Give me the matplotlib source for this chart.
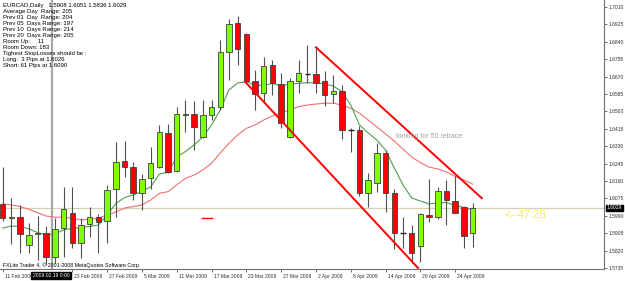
import matplotlib
matplotlib.use("Agg")
import matplotlib.pyplot as plt
import matplotlib.transforms as mtransforms
import pandas as pd

plt.rcParams['font.family'] = ['Liberation Sans', 'DejaVu Sans']

# daily EURCAD bars, 11 Feb 2009 onward
dates = pd.bdate_range("2009-02-11", periods=55)

opens = [1.6046, 1.5978, 1.5983, 1.5846, 1.5900, 1.5905, 1.5787, 1.5929, 1.6002, 1.5856,
         1.5949, 1.5983, 1.5965, 1.6121, 1.6256, 1.6230, 1.6103, 1.6173, 1.6230, 1.6393,
         1.6210, 1.6481, 1.6487, 1.6376, 1.6481, 1.6520, 1.6792, 1.6930, 1.6878, 1.6650,
         1.6590, 1.6727, 1.6634, 1.6374, 1.6650, 1.6685, 1.6681, 1.6650, 1.6586, 1.6601,
         1.6411, 1.6409, 1.6100, 1.6149, 1.6295, 1.6100, 1.5904, 1.5905, 1.5844, 1.5993,
         1.5986, 1.6111, 1.6062, 1.6032, 1.5908]
highs = [1.6230, 1.6076, 1.6043, 1.5953, 1.5989, 1.5940, 1.5978, 1.6132, 1.6129, 1.5978,
         1.6035, 1.5999, 1.6141, 1.6352, 1.6355, 1.6254, 1.6194, 1.6328, 1.6434, 1.6438,
         1.6523, 1.6556, 1.6552, 1.6556, 1.6556, 1.6849, 1.6950, 1.6966, 1.6884, 1.6702,
         1.6767, 1.6751, 1.6688, 1.6662, 1.6751, 1.6824, 1.6813, 1.6699, 1.6678, 1.6629,
         1.6417, 1.6429, 1.6198, 1.6347, 1.6311, 1.6120, 1.5986, 1.5945, 1.6002, 1.6168,
         1.6129, 1.6165, 1.6184, 1.6038, 1.6051]
lows = [1.5965, 1.5852, 1.5807, 1.5807, 1.5774, 1.5750, 1.5758, 1.5790, 1.5831, 1.5782,
        1.5888, 1.5807, 1.5856, 1.5986, 1.6181, 1.6067, 1.6018, 1.6120, 1.6224, 1.6200,
        1.6205, 1.6401, 1.6311, 1.6369, 1.6458, 1.6507, 1.6653, 1.6727, 1.6640, 1.6507,
        1.6540, 1.6580, 1.6417, 1.6369, 1.6591, 1.6637, 1.6588, 1.6528, 1.6540, 1.6364,
        1.6303, 1.6087, 1.6033, 1.6108, 1.6010, 1.5826, 1.5831, 1.5761, 1.5766, 1.5961,
        1.5973, 1.5945, 1.6002, 1.5831, 1.5836]
closes = [1.5978, 1.5986, 1.5900, 1.5896, 1.5904, 1.5787, 1.5924, 1.6022, 1.5856, 1.5947,
          1.5983, 1.5961, 1.6116, 1.6254, 1.6230, 1.6103, 1.6170, 1.6247, 1.6399, 1.6205,
          1.6486, 1.6487, 1.6422, 1.6481, 1.6520, 1.6792, 1.6926, 1.6805, 1.6650, 1.6585,
          1.6722, 1.6637, 1.6442, 1.6650, 1.6686, 1.6685, 1.6640, 1.6580, 1.6601, 1.6409,
          1.6411, 1.6100, 1.6165, 1.6295, 1.6100, 1.5905, 1.5904, 1.5810, 1.5997, 1.5983,
          1.6111, 1.6067, 1.6005, 1.5893, 1.6029]

ma_fast = [1.5930, 1.5940, 1.5938, 1.5926, 1.5908, 1.5896, 1.5901, 1.5921, 1.5928, 1.5933,
           1.5938, 1.5945, 1.5994, 1.6050, 1.6079, 1.6092, 1.6109, 1.6131, 1.6194, 1.6202,
           1.6277, 1.6304, 1.6336, 1.6375, 1.6434, 1.6507, 1.6605, 1.6639, 1.6645, 1.6629,
           1.6626, 1.6637, 1.6624, 1.6634, 1.6637, 1.6640, 1.6640, 1.6634, 1.6624, 1.6596,
           1.6531, 1.6434, 1.6395, 1.6360, 1.6311, 1.6224, 1.6141, 1.6077, 1.6062, 1.6048,
           1.6053, 1.6055, 1.6040, 1.6031, 1.6018]
ma_slow = [1.6048, 1.6043, 1.6035, 1.6022, 1.6005, 1.5989, 1.5983, 1.5983, 1.5978, 1.5970,
           1.5973, 1.5978, 1.5994, 1.6009, 1.6028, 1.6035, 1.6043, 1.6067, 1.6100, 1.6108,
           1.6141, 1.6173, 1.6189, 1.6214, 1.6247, 1.6297, 1.6344, 1.6385, 1.6417, 1.6434,
           1.6458, 1.6478, 1.6494, 1.6507, 1.6523, 1.6531, 1.6536, 1.6540, 1.6540, 1.6531,
           1.6515, 1.6491, 1.6458, 1.6424, 1.6390, 1.6355, 1.6316, 1.6277, 1.6250, 1.6228,
           1.6219, 1.6204, 1.6182, 1.6165, 1.6145]

# channel lines drawn on the chart (bar index, price)
upper_line_x = [36.0, 55.06]
upper_line_y = [1.6813, 1.6076]
lower_line_x = [27.85, 47.73]
lower_line_y = [1.6645, 1.5735]
short_line_x = [22.9, 24.0]
short_line_y = [1.5978, 1.5978]

bid = 1.6029

y_ticks = [1.5735, 1.5820, 1.5905, 1.5990, 1.6075, 1.6160, 1.6245, 1.6330,
           1.6415, 1.6500, 1.6585, 1.6670, 1.6755, 1.6840, 1.6925, 1.7010]
x_tick_labels = ["11 Feb 2009", "23 Feb 2009", "27 Feb 2009", "5 Mar 2009", "11 Mar 2009",
                 "17 Mar 2009", "23 Mar 2009", "27 Mar 2009", "2 Apr 2009", "8 Apr 2009",
                 "14 Apr 2009", "20 Apr 2009", "24 Apr 2009"]

info_lines = ["EURCAD,Daily   1.5908 1.6051 1.5836 1.6029",
              "Average Day  Range: 205",
              "Prev 01  Day  Range: 204",
              "Prev 05  Days Range: 197",
              "Prev 10  Days Range: 214",
              "Prev 20  Days Range: 205",
              "Room Up:     11",
              "Room Down: 183",
              "Tighest StopLosses should be :",
              "Long:  3 Pips at 1.6026",
              "Short: 61 Pips at 1.6090"]

W, H = 625, 281
fig = plt.figure(figsize=(W / 100, H / 100), dpi=100)
ax = fig.add_axes([0, 12 / H, 604 / W, 269 / H])
ax.set_xlim(-0.31, 69.1)
ax.set_ylim(1.57301, 1.70442)

GREEN = '#80ff00'
RED = '#ff0000'
EDGE = '#404040'

# moving averages and bid line behind the candles
idx = list(range(len(dates)))
ax.axhline(bid, color='#d8ceb9', lw=0.9, zorder=1)
ax.plot(idx, ma_slow, color='#f07070', lw=0.8, zorder=2)
ax.plot(idx, ma_fast, color='#4e9e4e', lw=0.8, zorder=2)

# cursor line
ax.axvline(5.65, color='#a8a8a8', lw=1.6, zorder=1.5)

body_w = 0.63
for i, (o, h, l, c) in enumerate(zip(opens, highs, lows, closes)):
    ax.vlines(i, l, h, color='#505050', lw=0.8, zorder=3)
    if abs(c - o) < 0.00015:
        col = '#202020' if c == o else ('#3a5a10' if c > o else '#602020')
        ax.hlines((o + c) / 2, i - body_w / 2, i + body_w / 2, color=col, lw=1.0, zorder=4)
    else:
        ax.bar(i, abs(c - o), bottom=min(o, c), width=body_w,
               color=GREEN if c > o else RED, edgecolor=EDGE, lw=0.6, zorder=4)

ax.plot(upper_line_x, upper_line_y, color=RED, lw=1.4, zorder=5)
ax.plot(lower_line_x, lower_line_y, color=RED, lw=1.4, zorder=5)
ax.plot(short_line_x, short_line_y, color=RED, lw=1.0, zorder=5)

ax.text(45.2, 1.6375, "looking for 50 retrace", fontsize=5, color='#a0a0a0',
        ha='left', va='center', zorder=6)
ax.text(57.7, 1.5994, "<--47:28", fontsize=8, color='#f0f040',
        ha='left', va='center', zorder=6)

# axes styling like the terminal
for side in ['left', 'top']:
    ax.spines[side].set_visible(False)
for side in ['right', 'bottom']:
    ax.spines[side].set_color('#707070')
    ax.spines[side].set_linewidth(0.8)

ax.yaxis.tick_right()
ax.set_yticks(y_ticks)
ax.set_yticklabels([f"{v:.4f}" for v in y_ticks])
ax.tick_params(axis='y', labelsize=3.6, length=2, width=0.5, pad=1.5, colors='#303030')

tick_pos = [dates.get_loc(pd.to_datetime(t)) for t in x_tick_labels]
ax.set_xticks(tick_pos)
ax.set_xticklabels(x_tick_labels)
ax.tick_params(axis='x', labelsize=3.6, length=2.5, width=0.5, pad=1.0, colors='#303030')
shift = mtransforms.ScaledTranslation(2 / 100, 0, fig.dpi_scale_trans)
for lab in ax.get_xticklabels():
    lab.set_horizontalalignment('left')
    lab.set_transform(lab.get_transform() + shift)

# current bid label on the price axis
ax.annotate(f"{bid:.4f}", xy=(1.0, bid), xycoords=ax.get_yaxis_transform(),
            xytext=(2, 0), textcoords='offset points', fontsize=3.6, color='white',
            ha='left', va='center',
            bbox=dict(boxstyle='square,pad=0.15', fc='black', ec='black'),
            annotation_clip=False)

# cursor date box
fig.text(51 / W, 1 - 275.5 / H, "2009.02.19 0:00", fontsize=3.6, color='white',
         ha='center', va='center',
         bbox=dict(boxstyle='square,pad=0.25', fc='black', ec='black'))

for k, line in enumerate(info_lines):
    fig.text(3 / W, 1 - (5.8 + 6 * k) / H, line, fontsize=4.3, color='black',
             ha='left', va='center')

fig.text(3 / W, 1 - 265.5 / H, "FXLite Trader 4, \u00a9 2001-2008 MetaQuotes Software Corp.",
         fontsize=3.8, color='black', ha='left', va='center')

fig.savefig("out.png", dpi=100, facecolor='white')
